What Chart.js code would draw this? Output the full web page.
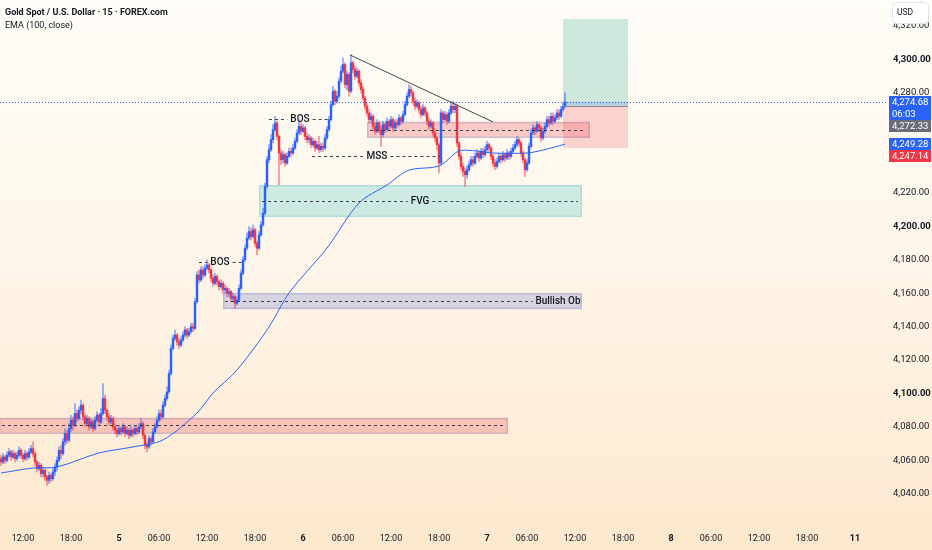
<!DOCTYPE html>
<html><head><meta charset="utf-8">
<script src="https://cdn.jsdelivr.net/npm/chart.js@4.4.1/dist/chart.umd.min.js"></script>
<style>
html,body{margin:0;padding:0;width:932px;height:550px;overflow:hidden;background:linear-gradient(180deg,#fffdf8 0%,#fef5e8 50%,#fde8cd 100%);}
#wrap{position:relative;width:932px;height:550px;}
canvas{position:absolute;left:0;top:0;}
#hdr{position:absolute;left:5px;top:6px;font-family:Roboto,sans-serif;font-size:9px;color:#131722;line-height:13px;white-space:nowrap;}
#hdr .t{font-weight:bold;}
</style></head><body>
<div id="wrap"><canvas id="c" width="932" height="550"></canvas>
<div id="hdr"><div class="t">Gold Spot / U.S. Dollar · 15 · FOREX.com</div><div>EMA (100, close)</div></div>
</div>
<script>
// ---- DATA ----
const firstBar = -59; // bar index of first candle (bars counted from day "5" 00:00)
const opens = [
4061,4059,4062,4060,4063,4065,4062,4064,4061,4063,
4066,4063,4061,4064,4062,4065,4067,4064,4059,4055,
4057,4052,4054,4050,4048,4051,4049,4053,4056,4060,
4066,4064,4071,4076,4072,4079,4084,4081,4088,4085,
4090,4093,4086,4082,4085,4080,4083,4079,4084,4087,
4083,4088,4097,4090,4086,4083,4085,4080,4078,4076,
4079,4077,4080,4076,4078,4075,4078,4076,4079,4077,
4080,4082,4075,4069,4068,4073,4071,4077,4080,4084,
4088,4086,4093,4097,4101,4112,4127,4133,4135,4131,
4129,4132,4135,4138,4135,4137,4140,4139,4155,4171,
4168,4174,4171,4175,4177,4174,4169,4166,4170,4167,
4164,4166,4162,4163,4160,4161,4157,4158,4154,4156,
4163,4172,4180,4187,4193,4197,4194,4198,4190,4187,
4195,4201,4208,4224,4240,4246,4252,4258,4262,4254,
4244,4240,4243,4238,4242,4245,4244,4247,4251,4256,
4260,4257,4259,4254,4252,4253,4249,4251,4247,4249,
4246,4248,4247,4253,4258,4264,4273,4281,4275,4278,
4287,4293,4297,4285,4291,4281,4298,4294,4290,4293,
4286,4282,4277,4272,4268,4264,4266,4260,4257,4262,
4258,4255,4261,4258,4263,4260,4264,4259,4262,4261,
4265,4263,4267,4273,4278,4282,4280,4275,4272,4274,
4270,4267,4271,4268,4263,4260,4262,4256,4253,4249,
4238,4268,4264,4267,4263,4268,4272,4270,4272,4250,
4242,4236,4233,4231,4234,4237,4240,4238,4242,4244,
4241,4245,4243,4246,4249,4247,4242,4238,4236,4239,
4242,4240,4243,4241,4244,4242,4245,4247,4249,4252,
4250,4244,4240,4234,4238,4248,4256,4259,4257,4261,
4259,4253,4257,4260,4264,4262,4266,4263,4265,4268,
4266,4270,4272];
const highs = [
4063,4064,4063,4065,4067,4066,4066,4065,4065,4068,
4067,4064,4066,4065,4067,4069,4071,4065,4060,4059,
4058,4056,4055,4051,4053,4052,4055,4058,4062,4068,
4069,4073,4079,4078,4082,4087,4086,4094,4090,4092,
4096,4094,4088,4087,4086,4085,4084,4086,4089,4088,
4091,4106,4099,4091,4088,4087,4086,4082,4079,4081,
4080,4082,4081,4080,4079,4080,4079,4081,4080,4082,
4085,4083,4076,4071,4075,4074,4079,4082,4086,4090,
4090,4095,4099,4104,4114,4129,4135,4138,4136,4133,
4134,4137,4140,4139,4139,4142,4142,4157,4173,4174,
4176,4176,4177,4180,4178,4175,4171,4172,4171,4168,
4168,4167,4165,4164,4163,4162,4160,4159,4158,4165,
4174,4182,4189,4196,4200,4199,4201,4199,4191,4197,
4203,4211,4226,4242,4249,4255,4261,4266,4263,4255,
4246,4245,4244,4244,4247,4247,4249,4253,4258,4264,
4262,4261,4260,4256,4255,4254,4253,4252,4251,4254,
4250,4250,4255,4260,4266,4275,4284,4282,4281,4289,
4296,4301,4298,4293,4292,4303,4299,4296,4295,4294,
4288,4284,4278,4274,4270,4268,4267,4262,4264,4263,
4260,4263,4262,4265,4264,4266,4265,4264,4264,4267,
4266,4269,4275,4280,4285,4284,4281,4277,4276,4275,
4272,4273,4272,4269,4265,4264,4263,4258,4254,4250,
4270,4269,4269,4268,4270,4275,4275,4274,4273,4251,
4244,4238,4235,4236,4239,4242,4242,4244,4246,4245,
4247,4247,4248,4251,4250,4248,4243,4240,4241,4244,
4243,4245,4244,4246,4245,4247,4249,4251,4254,4253,
4251,4245,4241,4240,4250,4258,4261,4260,4263,4262,
4260,4259,4262,4266,4266,4268,4268,4267,4270,4270,
4272,4274,4280];
const lows = [
4057,4058,4058,4059,4062,4060,4061,4059,4060,4062,
4061,4059,4060,4060,4061,4064,4062,4057,4053,4054,
4050,4050,4048,4045,4046,4047,4048,4051,4054,4059,
4061,4063,4069,4070,4071,4077,4078,4080,4083,4084,
4088,4084,4080,4081,4078,4079,4077,4078,4083,4081,
4082,4087,4088,4084,4081,4082,4078,4076,4074,4075,
4075,4076,4074,4075,4073,4074,4074,4075,4075,4076,
4079,4073,4067,4065,4067,4069,4070,4076,4079,4083,
4084,4085,4092,4096,4100,4111,4126,4132,4129,4127,
4128,4131,4134,4133,4134,4136,4137,4138,4154,4166,
4167,4169,4170,4174,4172,4167,4164,4165,4165,4162,
4163,4160,4160,4158,4158,4155,4155,4151,4153,4155,
4162,4171,4179,4186,4192,4192,4193,4188,4183,4186,
4194,4200,4207,4223,4238,4245,4250,4257,4252,4225,
4237,4238,4236,4237,4241,4242,4243,4246,4250,4255,
4255,4256,4252,4250,4250,4247,4248,4245,4246,4244,
4245,4245,4246,4252,4257,4263,4272,4273,4274,4277,
4286,4292,4283,4282,4278,4280,4292,4288,4289,4284,
4280,4275,4270,4266,4262,4262,4258,4255,4256,4256,
4248,4254,4256,4257,4258,4259,4257,4258,4259,4260,
4261,4262,4266,4272,4277,4278,4273,4270,4271,4268,
4265,4266,4266,4261,4258,4259,4254,4251,4246,4232,
4237,4262,4263,4261,4262,4267,4268,4268,4248,4240,
4234,4230,4224,4229,4233,4236,4236,4237,4241,4239,
4240,4241,4242,4245,4245,4240,4236,4234,4235,4238,
4238,4239,4239,4240,4240,4241,4244,4246,4248,4248,
4242,4238,4230,4233,4237,4247,4255,4255,4256,4257,
4251,4252,4256,4259,4260,4261,4261,4262,4264,4264,
4265,4269,4271];
const closes = [
4059,4062,4060,4063,4065,4062,4064,4061,4063,4066,
4063,4061,4064,4062,4065,4067,4064,4059,4055,4057,
4052,4054,4050,4048,4051,4049,4053,4056,4060,4066,
4064,4071,4076,4072,4079,4084,4081,4088,4085,4090,
4093,4086,4082,4085,4080,4083,4079,4084,4087,4083,
4088,4097,4090,4086,4083,4085,4080,4078,4076,4079,
4077,4080,4076,4078,4075,4078,4076,4079,4077,4080,
4082,4075,4069,4068,4073,4071,4077,4080,4084,4088,
4086,4093,4097,4101,4112,4127,4133,4135,4131,4129,
4132,4135,4138,4135,4137,4140,4139,4155,4171,4168,
4174,4171,4175,4177,4174,4169,4166,4170,4167,4164,
4166,4162,4163,4160,4161,4157,4158,4154,4156,4163,
4172,4180,4187,4193,4197,4194,4198,4190,4187,4195,
4201,4208,4224,4240,4246,4252,4258,4262,4254,4244,
4240,4243,4238,4242,4245,4244,4247,4251,4256,4260,
4257,4259,4254,4252,4253,4249,4251,4247,4249,4246,
4248,4247,4253,4258,4264,4273,4281,4275,4278,4287,
4293,4297,4285,4291,4281,4298,4294,4290,4293,4286,
4282,4277,4272,4268,4264,4266,4260,4257,4262,4258,
4255,4261,4258,4263,4260,4264,4259,4262,4261,4265,
4263,4267,4273,4278,4282,4280,4275,4272,4274,4270,
4267,4271,4268,4263,4260,4262,4256,4253,4249,4238,
4268,4264,4267,4263,4268,4272,4270,4272,4250,4242,
4236,4233,4231,4234,4237,4240,4238,4242,4244,4241,
4245,4243,4246,4249,4247,4242,4238,4236,4239,4242,
4240,4243,4241,4244,4242,4245,4247,4249,4252,4250,
4244,4240,4234,4238,4248,4256,4259,4257,4261,4259,
4253,4257,4260,4264,4262,4266,4263,4265,4268,4266,
4270,4272,4274.68];

const emaBars   = [-59,-43,-31,-10,7,22,39,47,59,75,85,104,120,134,145,160,170,179,187,204,212,223];
const emaValues = [4052.4,4055.4,4056.0,4064.4,4068.0,4072.2,4088.3,4100.3,4114.1,4139.8,4160.2,4187.1,4214.1,4224.9,4233.8,4236.2,4245.2,4245.2,4244.0,4244.0,4245.8,4249.28];

const timeTicks  = [-48,-24,0,20,44,68,92,112,136,160,184,204,228,252,276,296,320,344,368];
const timeLabels = ['12:00','18:00','5','06:00','12:00','18:00','6','06:00','12:00','18:00','7','06:00','12:00','18:00','8','06:00','12:00','18:00','11'];
const dayLabels  = ['5','6','7','8','11'];
const priceTicks = [4040,4060,4080,4100,4120,4140,4160,4180,4200,4220,4280,4300,4320];

const supplyZones = [ {from:-60, to:194.5, low:4076.0, high:4085.6, mid:4081.0},
                      {from:124, to:235.5, low:4253.2, high:4262.8, mid:4258.0} ];
const fvgZone = {from:70, to:231.5, low:4205.7, high:4224.9, mid:4215.5, text:'FVG', at:150.5};
const obZone  = {from:52, to:231.5, low:4150.5, high:4160.1, mid:4155.5, text:'Bullish Ob', at:219.5};
const structure = [ {text:'BOS', price:4264.6, from:75, to:105.5, at:90.5},
                    {text:'BOS', price:4178.7, from:40, to:61.5, at:50.5},
                    {text:'MSS', price:4242.0, from:96.5, to:160.5, at:129} ];
const trendLine = {b1:115.5, p1:4302.7, b2:187, p2:4262.6};
const position = {from:222, to:254.5, target:4324.3, entry:4272.33, stop:4247.14};
const lastPrice = 4274.68, emaLast = 4249.28, countdown = '06:03';

// ---- STYLE ----
const UP = '#2962ff', DOWN = '#f23645', FONT = 'Roboto, sans-serif', TXT = '#131722';
const UP_WICK = 'rgba(41,98,255,0.55)', DOWN_WICK = 'rgba(242,54,69,0.55)';
const fmt = v => v.toLocaleString('en-US',{minimumFractionDigits:2, maximumFractionDigits:2});

const bodyData = opens.map((o,i)=>({x:firstBar+i, y:[o, closes[i]]}));
const wickData = opens.map((o,i)=>({x:firstBar+i, y:[lows[i], highs[i]]}));
const emaData = emaBars.map((b,i)=>({x:b, y:emaValues[i]}));
const isDown = c => c.dataIndex!=null && closes[c.dataIndex] < opens[c.dataIndex];
const labelOf = v => timeLabels[timeTicks.indexOf(v)];

const overlay = {
  id:'overlay',
  beforeDatasetsDraw(chart){
    const {ctx, chartArea:a, scales:{x,y}} = chart;
    const X = u => x.getPixelForValue(u), Y = p => y.getPixelForValue(p);
    ctx.save();
    ctx.beginPath(); ctx.rect(a.left,a.top,a.right-a.left,a.bottom-a.top); ctx.clip();
    const box = (z, fill, stroke) => {
      const x1=X(z.from), x2=X(z.to), y1=Y(z.high), y2=Y(z.low);
      ctx.fillStyle=fill; ctx.fillRect(x1,y1,x2-x1,y2-y1);
      ctx.strokeStyle=stroke; ctx.lineWidth=1.5; ctx.setLineDash([]);
      ctx.strokeRect(Math.round(x1)+0.75,Math.round(y1)+0.75,Math.round(x2-x1)-1.5,Math.round(y2-y1)-1.5);
    };
    supplyZones.forEach(z=>box(z,'rgba(242,54,69,0.24)','rgba(120,140,190,0.35)'));
    box(fvgZone,'rgba(30,190,190,0.22)','rgba(120,190,200,0.35)');
    box(obZone,'rgba(60,80,200,0.2)','rgba(140,145,200,0.4)');
    const px1=X(position.from), px2=X(position.to);
    ctx.fillStyle='rgba(8,153,129,0.2)'; ctx.fillRect(px1,Y(position.target),px2-px1,Y(position.entry)-Y(position.target));
    ctx.fillStyle='rgba(242,54,69,0.2)'; ctx.fillRect(px1,Y(position.entry),px2-px1,Y(position.stop)-Y(position.entry));
    ctx.fillStyle='rgba(41,98,255,0.18)'; ctx.fillRect(px1,Y(lastPrice),px2-px1,Y(position.entry)-Y(lastPrice));
    ctx.restore();
  },
  afterDatasetsDraw(chart){
    const {ctx, chartArea:a, scales:{x,y}} = chart;
    const X = u => x.getPixelForValue(u), Y = p => y.getPixelForValue(p);
    ctx.save();
    ctx.beginPath(); ctx.rect(a.left,a.top,a.right-a.left,a.bottom-a.top); ctx.clip();
    const dashed = (u1,u2,p,text,at) => {
      const yy=Math.round(Y(p))+0.5, x1=X(u1), x2=X(u2);
      ctx.strokeStyle='#3d404a'; ctx.lineWidth=1; ctx.setLineDash([3,3]);
      ctx.font='500 10px '+FONT;
      const segs=[];
      if(text){ const cx=X(at), w=ctx.measureText(text).width; segs.push([x1,cx-w/2-3],[cx+w/2+3,x2]); }
      else segs.push([x1,x2]);
      segs.forEach(s=>{ if(s[1]>s[0]){ctx.beginPath(); ctx.moveTo(s[0],yy); ctx.lineTo(s[1],yy); ctx.stroke();}});
      if(text){ ctx.setLineDash([]); ctx.fillStyle=TXT; ctx.textAlign='center'; ctx.textBaseline='middle'; ctx.fillText(text,X(at),yy); }
    };
    supplyZones.forEach(z=>dashed(z.from+1.5,z.to-2,z.mid));
    dashed(fvgZone.from+1.5,fvgZone.to-2,fvgZone.mid,fvgZone.text,fvgZone.at);
    dashed(obZone.from+1,obZone.to-2,obZone.mid,obZone.text,obZone.at);
    structure.forEach(s=>dashed(s.from,s.to,s.price,s.text,s.at));
    ctx.setLineDash([]); ctx.strokeStyle='#434651'; ctx.lineWidth=1;
    ctx.beginPath(); ctx.moveTo(X(trendLine.b1),Y(trendLine.p1)); ctx.lineTo(X(trendLine.b2),Y(trendLine.p2)); ctx.stroke();
    const px1=X(position.from), px2=X(position.to);
    ctx.strokeStyle='rgba(120,123,134,0.9)'; ctx.beginPath(); const ey=Math.round(Y(position.entry))+0.5; ctx.moveTo(px1,ey); ctx.lineTo(px2,ey); ctx.stroke();
    ctx.restore();
    ctx.save();
    ctx.strokeStyle=UP; ctx.lineWidth=1; ctx.setLineDash([1,2]); ctx.beginPath(); const ly=Math.round(Y(lastPrice))+0.5; ctx.moveTo(a.left,ly); ctx.lineTo(a.right+2,ly); ctx.stroke();
    ctx.restore();
  },
  afterDraw(chart){
    const {ctx, chartArea:a, scales:{y}} = chart;
    ctx.save();
    const labels=[{v:lastPrice,bg:UP,lines:[fmt(lastPrice),countdown]},{v:position.entry,bg:'#6a6d78',lines:[fmt(position.entry)]},
                  {v:emaLast,bg:UP,lines:[fmt(emaLast)]},{v:position.stop,bg:DOWN,lines:[fmt(position.stop)]}];
    let prevBottom=-1e9; const lx=a.right+3, lw=42;
    ctx.font='9.5px '+FONT; ctx.textBaseline='middle'; ctx.textAlign='left';
    labels.forEach(l=>{
      const h=l.lines.length*12;
      const top=Math.max(Math.round(y.getPixelForValue(l.v))-6, prevBottom);
      ctx.fillStyle=l.bg; ctx.fillRect(lx,top,lw,h);
      ctx.fillStyle='#ffffff';
      l.lines.forEach((t,i)=>ctx.fillText(t,lx+3,top+6.5+i*12));
      prevBottom=top+h;
    });
    ctx.fillStyle='#ffffff'; ctx.strokeStyle='#e0e3eb'; ctx.lineWidth=1;
    ctx.beginPath(); ctx.roundRect(892.5,2.5,36,21,4); ctx.fill(); ctx.stroke();
    ctx.fillStyle=TXT; ctx.font='8.5px '+FONT; ctx.textAlign='left'; ctx.fillText('USD',897,13);
    ctx.restore();
  }
};

new Chart(document.getElementById('c'), {
  type:'bar',
  data:{ datasets:[
    {type:'line', label:'EMA (100, close)', data:emaData, borderColor:UP, borderWidth:1, pointRadius:0, tension:0.3, order:0},
    {label:'body', data:bodyData, backgroundColor:c=>isDown(c)?DOWN:UP, barThickness:1.8, grouped:false, minBarLength:1, order:1},
    {label:'wick', data:wickData, backgroundColor:c=>isDown(c)?DOWN_WICK:UP_WICK, barThickness:1, grouped:false, order:2}
  ]},
  options:{
    responsive:false, animation:false, devicePixelRatio:1,
    layout:{padding:0},
    plugins:{legend:{display:false}, tooltip:{enabled:false}},
    scales:{
      x:{type:'linear', min:-59.5, max:383.5, offset:false,
         grid:{display:false, drawTicks:false}, border:{display:false},
         afterBuildTicks:s=>{ s.ticks = timeTicks.map(v=>({value:v})); },
         afterFit:s=>{ s.height=25; s.paddingLeft=0; s.paddingRight=0; },
         ticks:{autoSkip:false, maxRotation:0, padding:8, color:TXT,
           callback:v=>labelOf(v),
           font:c=>({family:FONT, size:9, weight: (c.tick && dayLabels.includes(labelOf(c.tick.value)))?'bold':'normal'})}},
      y:{type:'linear', position:'right', min:4021.26, max:4335.63,
         grid:{display:false, drawTicks:false}, border:{display:false},
         afterBuildTicks:s=>{ s.ticks = priceTicks.map(v=>({value:v})); },
         afterFit:s=>{ s.width=46; s.paddingTop=0; s.paddingBottom=0; },
         ticks:{padding:7, crossAlign:'near', color:TXT, callback:v=>fmt(v),
           font:c=>({family:FONT, size:9.5, weight: (c.tick && c.tick.value%100===0) ? 'bold':'normal'})}}
    }
  },
  plugins:[overlay]
});
</script>
</body></html>
